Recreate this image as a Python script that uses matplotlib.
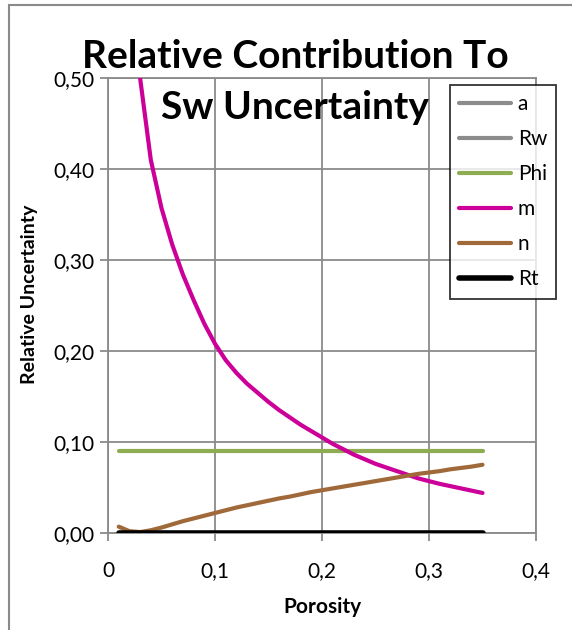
import matplotlib
matplotlib.use("Agg")
import matplotlib.pyplot as plt
from matplotlib.patches import Rectangle

plt.rcParams['font.family'] = ['Lato', 'DejaVu Sans']

porosity = [0.01, 0.02, 0.03, 0.04, 0.05, 0.06, 0.07, 0.08, 0.09, 0.10,
            0.11, 0.12, 0.13, 0.14, 0.15, 0.16, 0.17, 0.18, 0.19, 0.20,
            0.21, 0.22, 0.23, 0.24, 0.25, 0.26, 0.27, 0.28, 0.29, 0.30,
            0.31, 0.32, 0.33, 0.34, 0.35]
a_vals = [0.0] * len(porosity)
rw_vals = [0.0] * len(porosity)
phi_vals = [0.09] * len(porosity)
m_vals = [1.30, 0.70, 0.50, 0.41, 0.357, 0.317, 0.284, 0.256, 0.230, 0.208,
          0.190, 0.176, 0.164, 0.154, 0.144, 0.135, 0.127, 0.119, 0.112, 0.105,
          0.098, 0.092, 0.086, 0.081, 0.076, 0.072, 0.068, 0.064, 0.060, 0.057,
          0.054, 0.0515, 0.049, 0.0465, 0.044]
n_vals = [0.007, 0.002, 0.001, 0.003, 0.006, 0.0095, 0.013, 0.016, 0.019, 0.022,
          0.025, 0.028, 0.0305, 0.033, 0.0355, 0.038, 0.040, 0.0425, 0.045, 0.047,
          0.049, 0.051, 0.053, 0.055, 0.057, 0.059, 0.061, 0.063, 0.065, 0.0665,
          0.068, 0.070, 0.0715, 0.073, 0.075]
rt_vals = [0.0] * len(porosity)

series = [
    ("a", a_vals, "#8c8c8c", 3.0),
    ("Rw", rw_vals, "#8c8c8c", 3.0),
    ("Phi", phi_vals, "#8eac50", 3.0),
    ("m", m_vals, "#cc0099", 3.0),
    ("n", n_vals, "#a0693a", 3.0),
    ("Rt", rt_vals, "#000000", 4.0),
]

xticks = [0, 0.1, 0.2, 0.3, 0.4]
xticklabels = ["0", "0,1", "0,2", "0,3", "0,4"]
yticks = [0.0, 0.1, 0.2, 0.3, 0.4, 0.5]
yticklabels = ["0,00", "0,10", "0,20", "0,30", "0,40", "0,50"]

fig = plt.figure(figsize=(5.72, 6.30), dpi=100)
ax = fig.add_axes([108/572, 1 - 533/630, (536-108)/572, (533-78)/630])

lines = []
for name, vals, color, lw in series:
    ln, = ax.plot(porosity, vals, color=color, lw=lw, label=name,
                  solid_capstyle='round', solid_joinstyle='round', zorder=3)
    lines.append(ln)

ax.set_xlim(0, 0.4)
ax.set_ylim(0, 0.5)
ax.set_xticks(xticks)
ax.set_xticklabels(xticklabels)
ax.set_yticks(yticks)
ax.set_yticklabels(yticklabels)
ax.grid(True, color="#8a8a8a", lw=1.3, zorder=1)
for s in ax.spines.values():
    s.set_color("#8a8a8a")
    s.set_linewidth(1.3)
ax.tick_params(axis='both', colors="#8a8a8a", labelcolor="black",
               labelsize=15, length=6, width=1.3, direction='out')
ax.tick_params(axis='x', pad=14)
ax.tick_params(axis='y', pad=4)

fig.text(322/572, 1 - 607/630, "Porosity", ha='center', va='center',
         fontsize=15, fontweight='bold')
fig.text(30/572, 1 - 294/630, "Relative Uncertainty", ha='center', va='center',
         rotation=90, fontsize=14, fontweight='bold')

fig.text(295/572, 1 - 82/630, "Relative Contribution To\nSw Uncertainty",
         ha='center', va='center', fontsize=28, fontweight='bold',
         linespacing=1.52, zorder=5)

leg = fig.legend(handles=lines, loc='upper left',
                 bbox_to_anchor=(450/572, 1 - 85/630),
                 frameon=True, fancybox=False, fontsize=15,
                 handlelength=2.5, handletextpad=0.3, labelspacing=0.72,
                 borderpad=0.45, borderaxespad=0)
leg.get_frame().set_edgecolor("black")
leg.get_frame().set_linewidth(1.3)

fig.patches.append(Rectangle((9/572, -0.1), 1.2, 1.1 - 5/630,
                             transform=fig.transFigure, fill=False,
                             edgecolor="#8a8a8a", lw=1.5))

fig.savefig("out.png", dpi=100)
